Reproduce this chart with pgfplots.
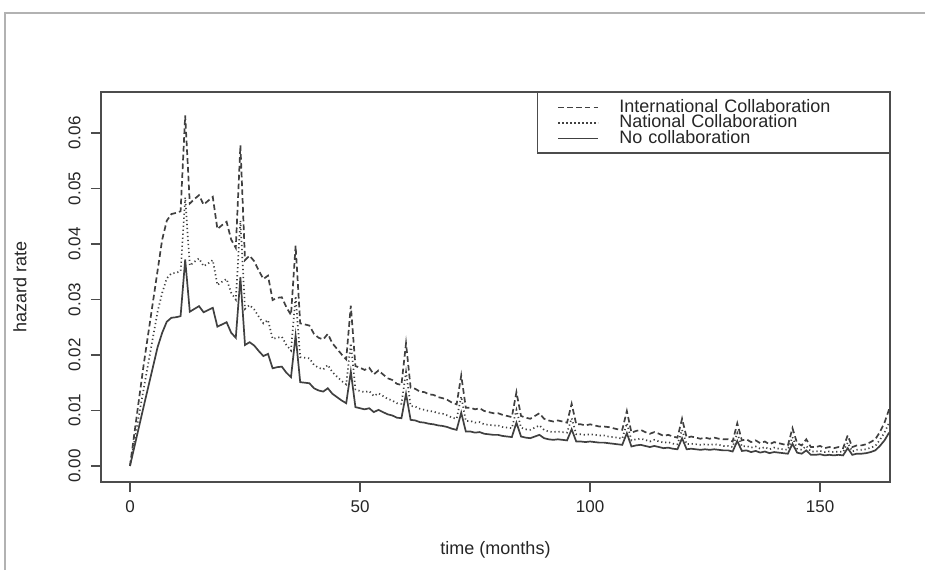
\documentclass[border=0pt]{standalone}
\usepackage{fontspec}
\setmainfont{Liberation Sans}
\usepackage{pgfplots}
\pgfplotsset{compat=1.18}
\usepackage{pgfplotstable}

% hazard rate by month: none = no collaboration, nat = national, intl = international
\pgfplotstableread{
t none nat intl
0 0.0000 0.0000 0.0000
3 0.0108 0.0140 0.0184
6 0.0214 0.0278 0.0352
7 0.0240 0.0312 0.0408
8 0.0260 0.0338 0.0442
9 0.0267 0.0347 0.0454
10 0.0268 0.0348 0.0456
11 0.0270 0.0351 0.0459
12 0.0372 0.0484 0.0632
13 0.0278 0.0361 0.0473
14 0.0283 0.0368 0.0481
15 0.0288 0.0374 0.0488
16 0.0277 0.0360 0.0471
17 0.0281 0.0365 0.0478
18 0.0285 0.0371 0.0485
19 0.0251 0.0326 0.0427
20 0.0255 0.0332 0.0434
21 0.0259 0.0337 0.0440
22 0.0240 0.0312 0.0408
23 0.0231 0.0300 0.0393
24 0.0340 0.0442 0.0578
25 0.0218 0.0283 0.0371
26 0.0223 0.0290 0.0379
27 0.0217 0.0282 0.0369
28 0.0207 0.0269 0.0352
29 0.0198 0.0257 0.0337
30 0.0202 0.0263 0.0343
31 0.0176 0.0229 0.0299
32 0.0178 0.0231 0.0303
33 0.0179 0.0233 0.0304
34 0.0168 0.0218 0.0286
35 0.0160 0.0208 0.0272
36 0.0235 0.0306 0.0397
37 0.0151 0.0196 0.0257
38 0.0150 0.0195 0.0255
39 0.0149 0.0194 0.0253
40 0.0140 0.0182 0.0238
41 0.0136 0.0177 0.0231
42 0.0134 0.0174 0.0228
43 0.0140 0.0182 0.0238
44 0.0130 0.0169 0.0221
45 0.0124 0.0161 0.0211
46 0.0118 0.0153 0.0201
47 0.0113 0.0147 0.0192
48 0.0170 0.0221 0.0289
49 0.0106 0.0138 0.0180
50 0.0104 0.0135 0.0177
51 0.0102 0.0133 0.0173
52 0.0104 0.0135 0.0177
53 0.0097 0.0126 0.0165
54 0.0101 0.0131 0.0172
55 0.0097 0.0126 0.0165
56 0.0093 0.0121 0.0158
57 0.0091 0.0118 0.0155
58 0.0087 0.0113 0.0148
59 0.0086 0.0112 0.0146
60 0.0130 0.0169 0.0221
61 0.0083 0.0108 0.0141
62 0.0082 0.0107 0.0139
63 0.0079 0.0103 0.0134
64 0.0078 0.0101 0.0133
65 0.0076 0.0099 0.0129
66 0.0075 0.0098 0.0128
67 0.0073 0.0095 0.0124
68 0.0072 0.0094 0.0122
69 0.0070 0.0091 0.0119
70 0.0067 0.0087 0.0114
71 0.0065 0.0085 0.0111
72 0.0096 0.0125 0.0163
73 0.0062 0.0081 0.0105
74 0.0062 0.0081 0.0105
75 0.0060 0.0078 0.0102
76 0.0061 0.0079 0.0104
77 0.0058 0.0075 0.0099
78 0.0057 0.0074 0.0097
79 0.0056 0.0073 0.0095
80 0.0056 0.0073 0.0095
81 0.0054 0.0070 0.0092
82 0.0053 0.0069 0.0090
83 0.0052 0.0068 0.0088
84 0.0078 0.0101 0.0133
85 0.0053 0.0069 0.0090
86 0.0051 0.0066 0.0087
87 0.0050 0.0065 0.0085
88 0.0053 0.0069 0.0090
89 0.0056 0.0073 0.0095
90 0.0050 0.0065 0.0085
91 0.0048 0.0062 0.0082
92 0.0047 0.0061 0.0080
93 0.0048 0.0062 0.0082
94 0.0047 0.0061 0.0080
95 0.0046 0.0060 0.0078
96 0.0066 0.0086 0.0112
97 0.0044 0.0057 0.0075
98 0.0044 0.0057 0.0075
99 0.0043 0.0056 0.0073
100 0.0044 0.0057 0.0075
101 0.0043 0.0056 0.0073
102 0.0042 0.0055 0.0071
103 0.0042 0.0055 0.0071
104 0.0041 0.0053 0.0070
105 0.0040 0.0052 0.0068
106 0.0039 0.0051 0.0066
107 0.0038 0.0049 0.0065
108 0.0059 0.0077 0.0099
109 0.0035 0.0046 0.0060
110 0.0037 0.0048 0.0063
111 0.0038 0.0049 0.0065
112 0.0036 0.0047 0.0061
113 0.0034 0.0044 0.0058
114 0.0036 0.0047 0.0061
115 0.0034 0.0044 0.0058
116 0.0032 0.0042 0.0054
117 0.0033 0.0043 0.0056
118 0.0031 0.0040 0.0053
119 0.0030 0.0039 0.0051
120 0.0050 0.0065 0.0085
121 0.0030 0.0039 0.0051
122 0.0031 0.0040 0.0053
123 0.0030 0.0039 0.0051
124 0.0029 0.0038 0.0049
125 0.0030 0.0039 0.0051
126 0.0029 0.0038 0.0049
127 0.0030 0.0039 0.0051
128 0.0029 0.0038 0.0049
129 0.0028 0.0036 0.0048
130 0.0028 0.0036 0.0048
131 0.0026 0.0034 0.0044
132 0.0045 0.0059 0.0077
133 0.0027 0.0035 0.0046
134 0.0028 0.0036 0.0048
135 0.0025 0.0033 0.0043
136 0.0027 0.0035 0.0046
137 0.0024 0.0031 0.0041
138 0.0026 0.0034 0.0044
139 0.0023 0.0030 0.0039
140 0.0025 0.0033 0.0043
141 0.0024 0.0031 0.0041
142 0.0023 0.0030 0.0039
143 0.0022 0.0029 0.0037
144 0.0040 0.0052 0.0068
145 0.0024 0.0031 0.0041
146 0.0022 0.0029 0.0037
147 0.0028 0.0036 0.0048
148 0.0020 0.0026 0.0034
149 0.0020 0.0026 0.0034
150 0.0021 0.0027 0.0036
151 0.0019 0.0025 0.0032
152 0.0020 0.0026 0.0034
153 0.0019 0.0025 0.0032
154 0.0020 0.0026 0.0034
155 0.0019 0.0025 0.0032
156 0.0032 0.0042 0.0055
157 0.0020 0.0026 0.0034
158 0.0022 0.0029 0.0037
159 0.0022 0.0029 0.0037
160 0.0023 0.0030 0.0039
161 0.0025 0.0033 0.0043
162 0.0028 0.0036 0.0048
163 0.0036 0.0047 0.0061
164 0.0046 0.0060 0.0078
165 0.0060 0.0078 0.0102
}\hazard

\begin{document}
\begin{tikzpicture}
\path[use as bounding box] (0,0) rectangle (462.5pt,285pt);
\draw[gray!60, line width=1pt] (2.5pt,0) -- (2.5pt,278.5pt) -- (462.5pt,278.5pt);
\begin{axis}[
    at={(50.5pt,44pt)}, anchor=south west,
    scale only axis, width=394.5pt, height=195pt,
    xmin=-6.3, xmax=165.2,
    ymin=-0.0029, ymax=0.0674,
    xtick={0,50,100,150}, xticklabels={0,50,100,150},
    ytick={0,0.01,0.02,0.03,0.04,0.05,0.06},
    yticklabels={0.00,0.01,0.02,0.03,0.04,0.05,0.06},
    scaled y ticks=false,
    xtick pos=bottom, ytick pos=left,
    tick align=outside, major tick length=5pt,
    /pgf/number format/assume math mode=true,
    axis line style={black!70, line width=0.7pt},
    tick style={black!70, line width=0.7pt},
    ticklabel style={font=\fontsize{8.5}{8.5}\selectfont, text=black!85},
    xticklabel style={inner sep=0pt, anchor=north, yshift=-4pt},
    yticklabel style={xshift=-5pt, rotate=90, anchor=south, inner sep=0pt},
    xlabel={time (months)},
    xlabel style={at={(axis description cs:0.5,-0.174)}, anchor=center,
        font=\fontsize{9}{9}\selectfont, text=black!85},
    ylabel={hazard rate},
    ylabel style={at={(axis description cs:-0.1027,0.5)}, anchor=center,
        font=\fontsize{9}{9}\selectfont, text=black!85},
    legend cell align=left,
    legend image code/.code={\draw[#1] (0pt,0pt) -- (20pt,0pt);},
    legend style={at={(rel axis cs:1,1)}, anchor=north east,
        draw=black!70, line width=0.7pt,
        inner xsep=10pt, inner ysep=3.5pt,
        font=\fontsize{9}{9}\selectfont, text=black!85,
        nodes={inner sep=0pt, text height=6.2pt, text depth=1.55pt,
               text width=125pt, align=left},
        /tikz/every odd column/.append style={column sep=10pt}},
]
\addplot[black!75, line width=0.85pt, dash pattern=on 2.8pt off 1.6pt]
    table[x=t, y=intl] {\hazard};
\addplot[black!75, line width=0.85pt, dash pattern=on 0.6pt off 1.4pt]
    table[x=t, y=nat] {\hazard};
\addplot[black!75, line width=0.85pt]
    table[x=t, y=none] {\hazard};
\legend{International Collaboration, National Collaboration, No collaboration}
\end{axis}
\end{tikzpicture}
\end{document}
